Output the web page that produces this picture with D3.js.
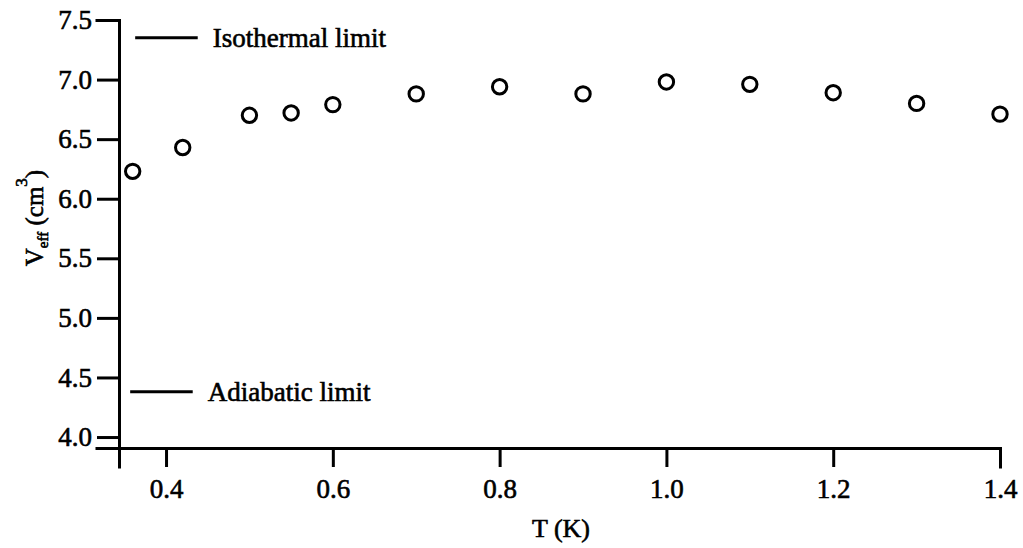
<!DOCTYPE html>
<html>
<head>
<meta charset="utf-8">
<script src="https://cdn.jsdelivr.net/npm/d3@7"></script>
<style>
  html, body { margin: 0; padding: 0; background: #fff; }
  svg { display: block; }
</style>
</head>
<body>
<svg id="chart" width="1023" height="548"></svg>
<script>
// Temperature (K) of each measurement
const temperatures = [0.36, 0.42, 0.50, 0.55, 0.60, 0.70, 0.80, 0.90, 1.00, 1.10, 1.20, 1.30, 1.40];
// Effective volume V_eff (cm^3)
const effVolumes = [6.23, 6.43, 6.70, 6.72, 6.79, 6.88, 6.94, 6.88, 6.98, 6.96, 6.89, 6.80, 6.71];
// Reference limits marked beside the axis
const limitLabels = ["Isothermal limit", "Adiabatic limit"];
const limitValues = [7.35, 4.38];
const limitSpans = [[0.363, 0.438], [0.357, 0.432]];
// Axis ticks
const xTicks = [0.4, 0.6, 0.8, 1.0, 1.2, 1.4];
const yTicks = [4.0, 4.5, 5.0, 5.5, 6.0, 6.5, 7.0, 7.5];

const FONT = '"Liberation Serif", "Times New Roman", serif';
const fs = 27;

// serif text with a slightly heavy stroke
function styleText(sel, size) {
  return sel.style("font-family", FONT)
    .attr("font-size", size)
    .attr("fill", "#000")
    .attr("stroke", "#000")
    .attr("stroke-width", 0.6);
}

const svg = d3.select("#chart");

const x = d3.scaleLinear().domain([0.3436, 1.4]).range([119, 1000]);
const y = d3.scaleLinear().domain([3.908, 7.5]).range([448, 20]);

// x axis
const gx = svg.append("g")
  .attr("transform", `translate(0,${y.range()[0]})`)
  .call(d3.axisBottom(x).tickValues(xTicks).tickFormat(d3.format(".1f"))
    .tickSizeOuter(0).tickSize(19).tickPadding(12));
// y axis
const gy = svg.append("g")
  .attr("transform", `translate(${x.range()[0]},0)`)
  .call(d3.axisLeft(y).tickValues(yTicks).tickFormat(d3.format(".1f"))
    .tickSizeOuter(0).tickSize(22).tickPadding(5));

[gx, gy].forEach(g => {
  g.attr("font-family", null).attr("font-size", null);
  g.select(".domain").attr("stroke", "#000").attr("stroke-width", 3).attr("stroke-linecap", "square");
  g.selectAll(".tick line").attr("stroke", "#000").attr("stroke-width", 3);
  styleText(g.selectAll(".tick text"), fs);
});

// limit markers with labels
limitValues.forEach((v, i) => {
  svg.append("line")
    .attr("x1", x(limitSpans[i][0])).attr("x2", x(limitSpans[i][1]))
    .attr("y1", y(v)).attr("y2", y(v))
    .attr("stroke", "#000").attr("stroke-width", 3);
  styleText(svg.append("text"), fs)
    .attr("x", x(limitSpans[i][1]) + 15)
    .attr("y", y(v) + 9)
    .text(limitLabels[i]);
});

// data points
svg.append("g").selectAll("circle")
  .data(temperatures.map((t, i) => [t, effVolumes[i]]))
  .join("circle")
  .attr("cx", d => x(d[0]))
  .attr("cy", d => y(d[1]))
  .attr("r", 7.2)
  .attr("fill", "none")
  .attr("stroke", "#000")
  .attr("stroke-width", 3);

// axis titles
styleText(svg.append("text"), 26)
  .attr("x", 561).attr("y", 537)
  .attr("text-anchor", "middle")
  .text("T (K)");

const yt = styleText(svg.append("text"), 25)
  .attr("transform", "translate(43,218) rotate(-90)")
  .attr("text-anchor", "middle");
yt.append("tspan").text("V");
yt.append("tspan").attr("font-size", 15).attr("dy", 5).text("eff");
yt.append("tspan").attr("dy", -5).text(" (cm");
yt.append("tspan").attr("font-size", 17).attr("dy", -16).text("3");
yt.append("tspan").attr("dy", 16).text(")");
</script>
</body>
</html>
